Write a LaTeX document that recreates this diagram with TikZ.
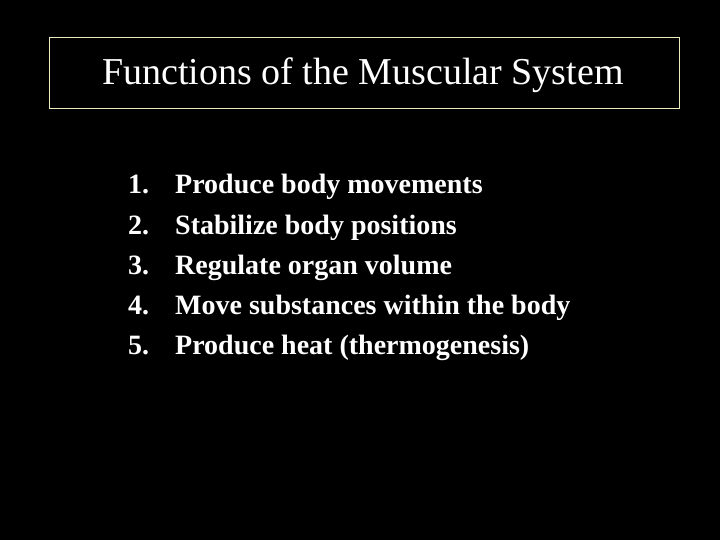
\documentclass[tikz,border=0pt]{standalone}
\usepackage{fontspec}
\setmainfont{Liberation Serif}
\definecolor{frame}{RGB}{235,235,190}
\begin{document}
\begin{tikzpicture}[x=1pt,y=-1pt,
  item/.style={anchor=base west,text=white,font=\fontsize{28}{32}\selectfont\bfseries,inner sep=0pt}]
\fill[black] (0,0) rectangle (720,540);
\useasboundingbox (0,0) rectangle (720,540);
\node[draw=frame,line width=1pt,minimum width=630pt,minimum height=71pt,anchor=north west,inner sep=0pt] (box) at (49,37) {};
\node[text=white,font=\fontsize{38}{42}\selectfont,anchor=base,inner sep=0pt] (title) at (363,85) {Functions of the Muscular System};
\foreach \n/\t [count=\i] in {1/Produce body movements,2/Stabilize body positions,3/Regulate organ volume,4/Move substances within the body,5/Produce heat (thermogenesis)}{
  \node[item] (num\i) at (128,{194+40*(\i-1)}) {\n.};
  \node[item] (txt\i) at (175,{194+40*(\i-1)}) {\t};
}
\end{tikzpicture}
\end{document}
